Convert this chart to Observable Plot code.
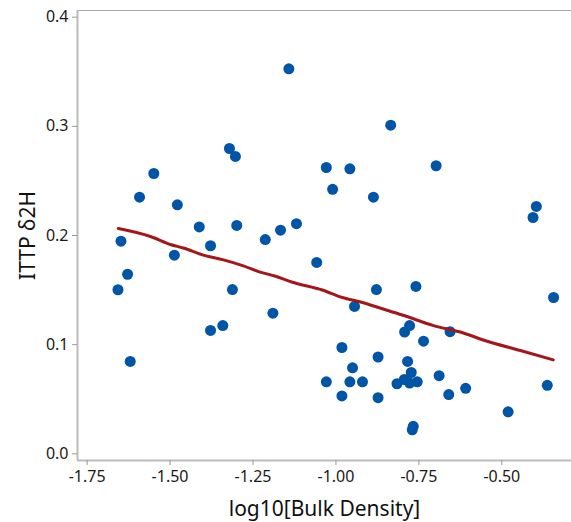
<!DOCTYPE html>
<html><head><meta charset="utf-8">
<script src="https://cdn.jsdelivr.net/npm/d3@7"></script>
<script src="https://cdn.jsdelivr.net/npm/@observablehq/plot@0.6"></script>
<style>
body{margin:0;background:#fff;}
#chart svg{font-family:"Noto Sans",sans-serif;}
#chart g[aria-label="x-axis tick label"] text,
#chart g[aria-label="y-axis tick label"] text{font-size:16px !important;fill:#1a1a1a;}
#chart g[aria-label="x-axis label"] text,
#chart g[aria-label="y-axis label"] text{font-size:21px !important;fill:#111;}
</style>
</head><body><div id="chart"></div>
<script>
const logBulkDensity = [-1.657,-1.648,-1.628,-1.620,-1.592,-1.549,-1.487,-1.478,-1.412,-1.378,
  -1.378,-1.341,-1.321,-1.303,-1.312,-1.299,-1.213,-1.190,-1.167,-1.119,
  -1.142,-1.058,-1.029,-0.958,-1.010,-0.887,-0.835,-0.698,-0.396,-0.406,
  -0.878,-0.944,-0.759,-0.344,-0.778,-0.793,-0.656,-0.736,-0.982,-0.873,
  -0.784,-0.950,-0.773,-0.794,-0.689,-1.029,-0.958,-0.920,-0.816,-0.778,
  -0.755,-0.609,-0.982,-0.873,-0.660,-0.767,-0.770,-0.481,-0.363];
const ittpD2H = [0.1503,0.1948,0.1645,0.0846,0.2351,0.2568,0.1820,0.2281,0.2078,0.1906,
  0.1130,0.1175,0.2797,0.2724,0.1505,0.2092,0.1963,0.1288,0.2049,0.2108,
  0.3527,0.1753,0.2623,0.2611,0.2423,0.2351,0.3011,0.2639,0.2266,0.2165,
  0.1505,0.1350,0.1533,0.1432,0.1175,0.1116,0.1119,0.1032,0.0974,0.0887,
  0.0846,0.0788,0.0745,0.0681,0.0716,0.0660,0.0660,0.0660,0.0642,0.0649,
  0.0660,0.0600,0.0530,0.0514,0.0543,0.0252,0.0220,0.0385,0.0628];
const trendX = [-1.656,-1.559,-1.499,-1.460,-1.400,-1.339,-1.279,-1.231,-1.182,-1.131,
  -1.041,-0.981,-0.920,-0.872,-0.800,-0.706,-0.616,-0.556,-0.444,-0.345];
const trendY = [0.2064,0.1991,0.1918,0.1885,0.1820,0.1777,0.1722,0.1667,0.1627,0.1572,
  0.1501,0.1432,0.1386,0.1340,0.1272,0.1175,0.1107,0.1043,0.0946,0.0861];
const xTicks = [-1.75,-1.50,-1.25,-1.00,-0.75,-0.50];
const yTicks = [0.0,0.1,0.2,0.3,0.4];
const xLabel = "log10[Bulk Density]";
const yLabel = "ITTP δ2H";

const points = logBulkDensity.map((x,i)=>({x, y: ittpD2H[i]}));
const trend = trendX.map((x,i)=>({x, y: trendY[i]}));
const xDomain = [-1.779, -0.290];
const yDomain = [-0.0061, 0.4061];

const chart = Plot.plot({
  width: 571, height: 522,
  marginLeft: 77, marginRight: 0, marginTop: 10, marginBottom: 62,
  style: {fontSize: "16px", fontFamily: "Noto Sans, sans-serif", color: "#111", background: "#fff"},
  x: {domain: xDomain},
  y: {domain: yDomain},
  marks: [
    Plot.ruleY([yDomain[1]], {stroke: "#aaa", strokeWidth: 1.2}),
    Plot.ruleX([xDomain[0]], {stroke: "#bbb", strokeWidth: 2}),
    Plot.ruleY([yDomain[0]], {stroke: "#bbb", strokeWidth: 2}),
    Plot.axisX({ticks: xTicks, tickFormat: d => d.toFixed(2), tickSize: 5, tickPadding: 5, fontSize: 16,
      stroke: "#999", label: xLabel, labelAnchor: "center", labelArrow: "none", labelOffset: 55}),
    Plot.axisY({ticks: yTicks, tickFormat: d => d.toFixed(1), tickSize: 5, tickPadding: 4, fontSize: 16,
      stroke: "#999", label: yLabel, labelAnchor: "center", labelArrow: "none", labelOffset: 57}),
    Plot.dot(points, {x: "x", y: "y", r: 5.5, fill: "#0055a6", stroke: "none"}),
    Plot.line(trend, {x: "x", y: "y", stroke: "#a3161a", strokeWidth: 3, curve: "monotone-x"})
  ]
});
document.getElementById("chart").append(chart);
</script>
</body></html>
